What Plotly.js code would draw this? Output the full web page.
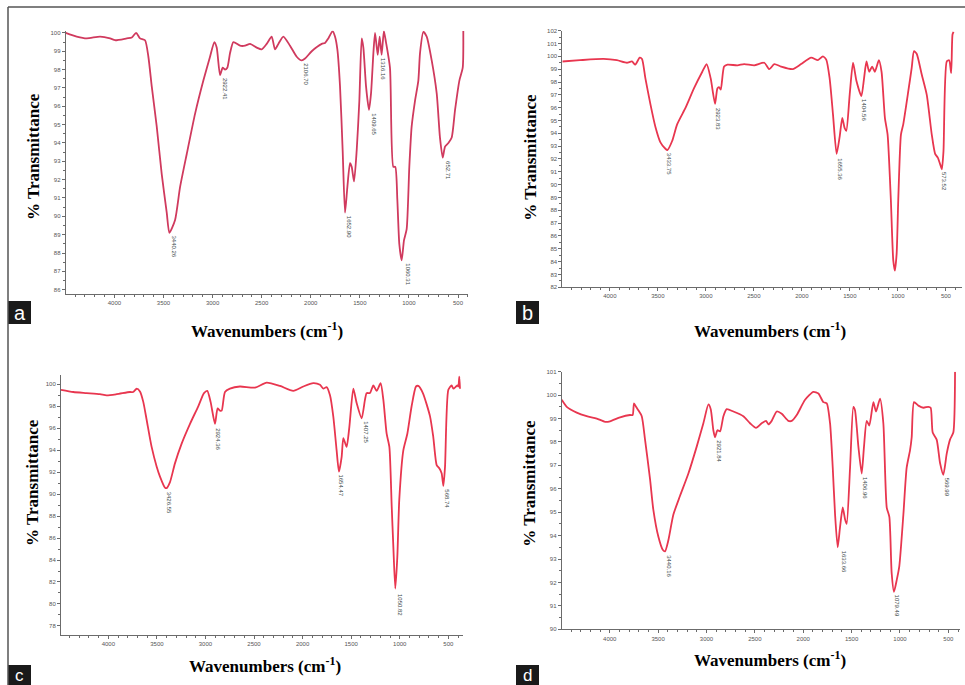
<!DOCTYPE html>
<html><head><meta charset="utf-8">
<script src="https://cdn.plot.ly/plotly-3.0.1.min.js"></script>
<style>body{margin:0;background:#fff}#chart{width:965px;height:685px}</style>
</head><body><div id="chart"></div>
<script>
// Panel a
const waveA = [4496,4384,4282,4146,4044,3993,3874,3823,3779,3739,3688,3654,3620,3569,3518,3467,3440,3382,3331,3263,3178,3094,3026,2982,2958,2924,2897,2873,2850,2822,2788,2720,2669,2618,2551,2500,2449,2398,2364,2330,2279,2211,2143,2092,2058,1990,1888,1855,1821,1777,1753,1729,1702,1675,1651,1627,1600,1583,1559,1532,1505,1481,1464,1437,1407,1386,1362,1345,1318,1298,1278,1255,1234,1193,1159,1139,1118,1098,1074,1050,1023,996,972,938,904,887,853,819,768,717,684,656,632,598,564,530,486,452,446];
const transA = [100.0,99.8,99.7,99.8,99.7,99.6,99.7,99.75,100.0,99.7,99.6,98.7,97.1,94.9,92.3,90.2,89.1,89.8,91.6,93.4,95.6,97.4,98.7,99.5,99.2,97.7,98.1,98.0,98.1,98.9,99.5,99.3,99.3,99.4,99.2,99.1,99.4,99.8,99.1,99.4,99.8,99.3,98.7,98.5,98.6,99.0,99.4,99.45,99.7,100.1,99.8,99.1,97.1,93.6,90.2,91.6,92.9,92.7,91.9,93.6,96.3,99.7,99.2,97.1,95.8,96.7,98.9,100.0,98.8,99.8,98.8,100.1,99.5,98.1,92.7,92.7,90.9,88.5,87.6,88.7,89.3,92.7,94.9,96.3,97.4,98.9,100.05,99.8,98.5,96.7,94.3,93.2,93.8,94.0,94.3,95.8,97.4,98.1,100.1];
const peakWaveA = [3440.26,2922.41,2106.70,1652.90,1409.65,1316.16,1060.31,652.71];
const peakTransA = [89.1,97.7,98.5,90.2,95.8,98.8,87.6,93.2];

// Panel b
const waveB = [4495,4311,4066,3927,3822,3770,3735,3689,3665,3630,3578,3525,3473,3421,3400,3351,3299,3211,3124,3037,2992,2950,2904,2880,2863,2845,2810,2775,2671,2601,2496,2391,2339,2287,2217,2095,2008,1903,1833,1781,1746,1711,1676,1638,1607,1579,1554,1537,1502,1467,1432,1380,1352,1327,1299,1268,1240,1198,1170,1135,1107,1073,1048,1031,1013,996,968,944,891,856,832,804,752,699,647,612,584,560,542,525,491,466,445,431,420];
const transB = [99.6,99.7,99.8,99.7,99.5,99.6,99.35,99.9,99.8,98.3,96.3,94.5,93.3,92.8,92.7,93.4,94.7,96.0,97.5,98.8,99.4,98.3,96.3,97.5,97.6,97.4,99.2,99.35,99.3,99.4,99.3,99.5,99.0,99.4,99.2,99.0,99.4,99.9,99.7,100.0,99.75,98.3,95.5,92.4,93.7,95.2,94.4,94.2,97.0,99.5,98.1,96.9,98.3,99.6,98.8,99.2,98.8,99.7,98.8,95.2,93.9,88.8,84.1,83.3,84.6,88.8,93.9,94.7,97.3,99.1,100.4,100.2,98.6,97.0,93.9,92.4,92.1,91.6,91.2,92.6,99.6,99.7,98.7,101.7,101.9];
const peakWaveB = [3433.75,2923.83,1655.36,1404.56,573.52];
const peakTransB = [92.7,96.2,92.3,96.9,91.2];

// Panel c
const waveC = [4487,4360,4223,4086,4017,3914,3777,3743,3708,3674,3640,3605,3554,3502,3468,3417,3400,3365,3314,3245,3159,3074,3015,2981,2947,2902,2875,2851,2833,2799,2748,2645,2490,2370,2233,2096,1993,1890,1821,1787,1753,1718,1684,1650,1626,1598,1581,1547,1519,1478,1444,1392,1358,1341,1307,1272,1238,1197,1169,1135,1107,1083,1066,1046,1025,1005,963,922,878,833,809,762,689,655,620,593,569,551,534,500,466,449,421,407,397,387,380];
const transC = [99.5,99.3,99.2,99.1,99.0,99.1,99.3,99.3,99.6,99.35,98.4,96.75,94.3,92.5,91.6,90.6,90.55,91.1,92.8,94.6,96.4,98.0,99.2,99.4,98.4,96.4,97.8,97.6,97.6,99.3,99.6,99.8,99.7,100.15,99.85,99.4,99.8,100.1,99.95,99.6,99.75,99.0,97.05,94.0,92.05,93.4,95.1,94.3,96.1,99.6,98.3,96.9,98.6,99.2,99.2,99.9,99.4,100.1,98.6,95.5,94.3,88.9,85.2,81.4,84.3,89.5,94.0,95.5,98.0,99.8,99.85,99.2,97.1,95.2,92.65,92.35,91.9,90.75,92.5,99.5,99.9,99.6,99.8,99.9,99.8,100.7,99.6];
const peakWaveC = [3426.55,2924.36,1654.47,1407.25,1050.82,568.74];
const peakTransC = [90.5,96.3,92.05,96.9,81.2,90.7];

// Panel d
const waveD = [4496,4444,4341,4238,4134,4048,3997,3893,3790,3763,3749,3728,3704,3669,3635,3583,3549,3497,3452,3428,3394,3342,3273,3187,3101,3032,2980,2956,2929,2911,2887,2860,2825,2791,2722,2619,2550,2488,2429,2384,2360,2326,2274,2222,2154,2119,2067,1981,1895,1843,1792,1757,1723,1695,1671,1644,1620,1592,1568,1551,1516,1482,1465,1430,1396,1372,1344,1317,1275,1248,1206,1172,1137,1110,1086,1062,1034,1007,965,931,896,879,855,810,758,707,683,662,621,586,552,517,483,449,431];
const transD = [99.8,99.5,99.25,99.1,99.0,98.86,98.88,99.05,99.15,99.15,99.65,99.5,99.35,99.1,98.1,96.4,95.1,93.95,93.4,93.33,93.8,94.9,95.7,96.65,97.8,98.8,99.6,99.4,98.5,98.2,98.5,98.45,99.1,99.4,99.3,99.1,98.8,98.6,98.8,98.9,98.75,98.9,99.3,99.2,98.9,98.9,99.15,99.8,100.14,100.07,99.7,99.65,98.8,96.9,94.9,93.5,94.35,95.2,94.7,94.5,96.9,99.5,99.35,97.8,96.65,97.8,98.9,98.7,99.7,99.3,99.85,98.8,95.2,94.8,92.4,91.6,92.1,92.7,94.9,96.9,97.65,98.2,99.7,99.55,99.46,99.5,99.46,98.4,98.1,97.1,96.6,97.5,98.1,98.4,101.0];
const peakWaveD = [3440.16,2921.84,1633.66,1406.96,1079.49,569.99];
const peakTransD = [93.3,98.2,93.5,96.65,91.6,96.6];

const xTicks = [4000,3500,3000,2500,2000,1500,1000,500];
const panelLetters = ['a','b','c','d'];
const xTitle = 'Wavenumbers (cm<sup>-1</sup>)';
const yTitle = '% Transmittance';

const panels = [
  {w: waveA, t: transA, pw: peakWaveA, pt: peakTransA, color: '#d03a5e',
   xd: [0.0681,0.4853], yd: [0.5704,0.9552], xr: [4496,395], yr: [85.75,100.12], ydt: 1, ymin: 0.5,
   xt: [0.2767,0.518], yt: [0.0342,0.7708], box: [8,301,23,11.5,20]},
  {w: waveB, t: transB, pw: peakWaveB, pt: peakTransB, color: '#e8364f',
   xd: [0.5827,0.9966], yd: [0.5806,0.9552], xr: [4495,335], yr: [82,102], ydt: 1, ymin: 0.5,
   xt: [0.798,0.518], yt: [0.549,0.7708], box: [516,301,23,11.5,20]},
  {w: waveC, t: transC, pw: peakWaveC, pt: peakTransC, color: '#e8364f',
   xd: [0.0632,0.4801], yd: [0.0726,0.4526], xr: [4487,346], yr: [77.15,100.85], ydt: 2, ymin: 1,
   xt: [0.2746,0.0292], yt: [0.0342,0.2949], box: [8,665,20,10,17]},
  {w: waveD, t: transD, pw: peakWaveD, pt: peakTransD, color: '#e8364f',
   xd: [0.5821,0.9948], yd: [0.0813,0.4574], xr: [4496,380], yr: [90,101], ydt: 1, ymin: 0.5,
   xt: [0.798,0.038], yt: [0.549,0.2949], box: [516,665,20,10,17]}
];

const data = [];
const layout = {
  width: 965, height: 685, margin: {l:0,r:0,t:0,b:0},
  paper_bgcolor: '#ffffff', plot_bgcolor: '#ffffff', showlegend: false,
  annotations: [], shapes: [],
  font: {family: 'Liberation Sans, Arial, sans-serif'}
};

const W = 965, H = 685;
panels.forEach((p, i) => {
  const s = i === 0 ? '' : String(i + 1);
  data.push({x: p.w, y: p.t, type: 'scatter', mode: 'lines', xaxis: 'x' + s, yaxis: 'y' + s,
    line: {color: p.color, width: 1.8, shape: 'spline', smoothing: 0.6}, hoverinfo: 'skip'});
  const axStyle = {showgrid: false, zeroline: false, showline: true, linecolor: '#6b6b6b', linewidth: 1,
    ticks: 'outside', ticklen: 3, tickcolor: '#6b6b6b', tickfont: {size: 6, color: '#555'}};
  layout['xaxis' + s] = Object.assign({}, axStyle, {domain: p.xd, range: p.xr, anchor: 'y' + s,
    tickmode: 'array', tickvals: xTicks, ticktext: xTicks.map(String),
    minor: {dtick: 100, ticks: 'outside', ticklen: 2, tickcolor: '#6b6b6b'}});
  layout['yaxis' + s] = Object.assign({}, axStyle, {domain: p.yd, range: p.yr, anchor: 'x' + s,
    dtick: p.ydt, tick0: 0, minor: {dtick: p.ymin, ticks: 'outside', ticklen: 2, tickcolor: '#6b6b6b'}});
  // peak labels
  p.pw.forEach((w, k) => {
    layout.annotations.push({x: w, y: p.pt[k], xref: 'x' + s, yref: 'y' + s,
      text: w.toFixed(2), showarrow: false, textangle: 90, xanchor: 'center', yanchor: 'top',
      xshift: 5, yshift: -1, font: {size: 6, color: '#3d4a4a'}});
  });
  // axis titles
  layout.annotations.push({x: p.xt[0], y: p.xt[1], xref: 'paper', yref: 'paper', text: xTitle,
    showarrow: false, xanchor: 'center', yanchor: 'middle',
    font: {family: 'Liberation Serif, Times New Roman, serif', size: 17, weight: 'bold', color: '#000'}});
  layout.annotations.push({x: p.yt[0], y: p.yt[1], xref: 'paper', yref: 'paper', text: yTitle,
    showarrow: false, textangle: -90, xanchor: 'center', yanchor: 'middle',
    font: {family: 'Liberation Serif, Times New Roman, serif', size: 17, weight: 'bold', color: '#000'}});
  // panel letter box
  const bx = p.box[0], by = p.box[1], bs = p.box[2], bc = p.box[3], fs = p.box[4];
  layout.shapes.push({type: 'rect', xref: 'paper', yref: 'paper',
    x0: bx / W, x1: (bx + 23) / W, y0: 1 - (by + bs) / H, y1: 1 - by / H,
    fillcolor: '#1a1a1a', line: {width: 0}});
  layout.annotations.push({x: (bx + 11.5) / W, y: 1 - (by + bc) / H, xref: 'paper', yref: 'paper',
    text: panelLetters[i], showarrow: false, xanchor: 'center', yanchor: 'middle',
    font: {family: 'Liberation Sans, Arial, sans-serif', size: fs, color: '#fff'}});
});

// outer frame lines
layout.shapes.push({type: 'line', xref: 'paper', yref: 'paper', x0: 8 / W, x1: 1, y0: 1 - 7 / H, y1: 1 - 7 / H,
  line: {color: '#555', width: 1.5}});
layout.shapes.push({type: 'line', xref: 'paper', yref: 'paper', x0: 8 / W, x1: 8 / W, y0: 0, y1: 1 - 7 / H,
  line: {color: '#555', width: 1.5}});

Plotly.newPlot('chart', data, layout, {displayModeBar: false, staticPlot: true});
</script></body></html>
